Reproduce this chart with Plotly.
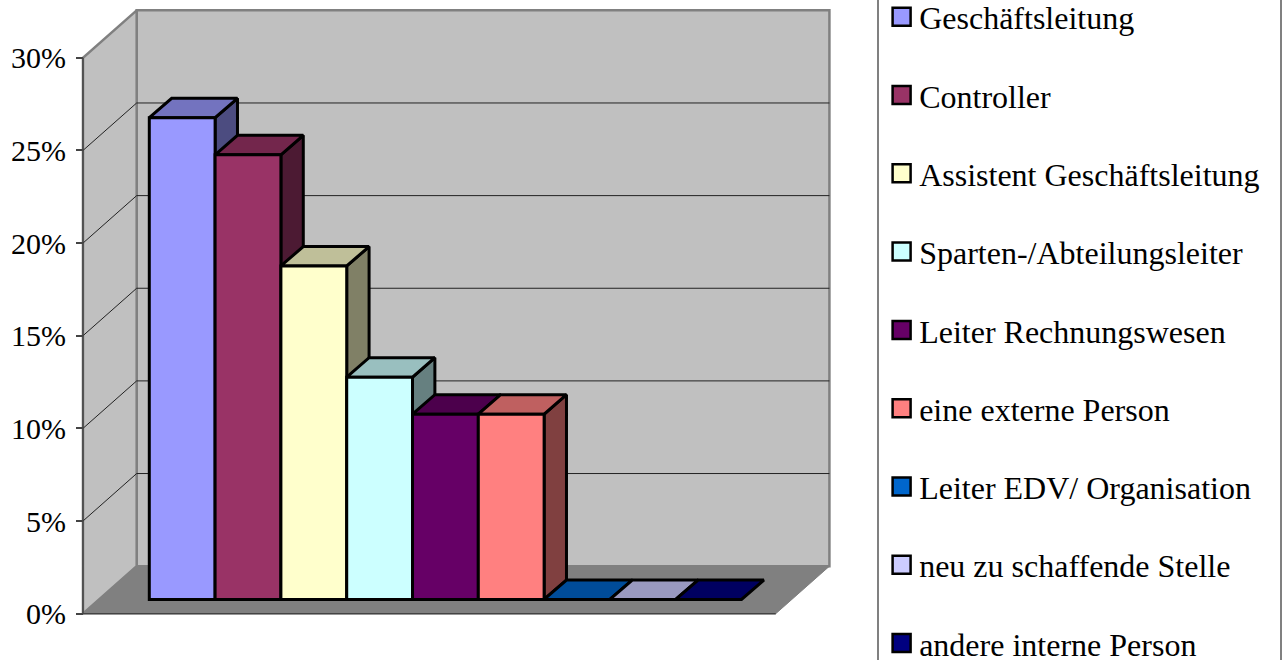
import plotly.graph_objects as go

categories = ["Geschäftsleitung", "Controller", "Assistent Geschäftsleitung",
              "Sparten-/Abteilungsleiter", "Leiter Rechnungswesen", "eine externe Person",
              "Leiter EDV/ Organisation", "neu zu schaffende Stelle", "andere interne Person"]
values = [26, 24, 18, 12, 10, 10, 0, 0, 0]
colors = ["#9999FF", "#993366", "#FFFFCC", "#CCFFFF", "#660066", "#FF8080", "#0066CC", "#CCCCFF", "#000080"]
tick_values = [0, 5, 10, 15, 20, 25, 30]
tick_labels = ["0%", "5%", "10%", "15%", "20%", "25%", "30%"]

W, H = 1282, 660
FONT = "Liberation Serif"
# axis windows (category units / percent units)
X_RANGE = [-2.769, 16.714]
Y_RANGE = [-2.5, 33.12]
# box of the pseudo-3D chart
BOX_L, BOX_R, BOX_DX, BOX_DY = -1.508, 9.02, 0.816, 2.563
BAR_BASE, BAR_DX, BAR_DY = 0.766, 0.34, 1.05
GREY_WALL, GREY_FLOOR, GREY_EDGE = "#C0C0C0", "#808080", "#808080"
# key column, placed on the same axes as the chart
KEY_X, KEY_LABEL_X = 10.933, 11.2
KEY_TOP, KEY_STEP, KEY_LABEL_DROP = 32.22, 4.226, 0.25


def shade(hex_color, f):
    r, g, b = (int(hex_color[i:i + 2], 16) for i in (1, 3, 5))
    return f"rgb({round(r * f)},{round(g * f)},{round(b * f)})"


def poly(xs, ys, fill, line_color, line_width):
    return go.Scatter(x=list(xs) + [xs[0]], y=list(ys) + [ys[0]], mode="lines", fill="toself",
                      fillcolor=fill, line=dict(color=line_color, width=line_width),
                      showlegend=False, hoverinfo="skip")


def seg(xs, ys, color, width):
    return go.Scatter(x=xs, y=ys, mode="lines", line=dict(color=color, width=width),
                      showlegend=False, hoverinfo="skip")


fig = go.Figure()
top = tick_values[-1]
# walls and floor
fig.add_trace(poly([BOX_L + BOX_DX, BOX_R + BOX_DX, BOX_R + BOX_DX, BOX_L + BOX_DX],
                   [BOX_DY, BOX_DY, top + BOX_DY, top + BOX_DY], GREY_WALL, GREY_EDGE, 2.5))
fig.add_trace(poly([BOX_L, BOX_L + BOX_DX, BOX_L + BOX_DX, BOX_L],
                   [0, BOX_DY, top + BOX_DY, top], GREY_WALL, GREY_EDGE, 2.5))
fig.add_trace(poly([BOX_L, BOX_R, BOX_R + BOX_DX, BOX_L + BOX_DX],
                   [0, 0, BOX_DY, BOX_DY], GREY_FLOOR, GREY_FLOOR, 1))
# grid lines
for t in tick_values[1:-1]:
    fig.add_trace(seg([BOX_L, BOX_L + BOX_DX, BOX_R + BOX_DX],
                      [t, t + BOX_DY, t + BOX_DY], "#222222", 1))
fig.add_trace(seg([BOX_L, BOX_R], [0, 0], "#444444", 1.5))
fig.add_trace(seg([BOX_L, BOX_L], [0, top], "#444444", 1.5))

# side and top faces, left to right
for i, (v, c) in enumerate(zip(values, colors)):
    l, r, b, t = i - 0.5, i + 0.5, BAR_BASE, BAR_BASE + v
    if v > 0:
        fig.add_trace(poly([r, r + BAR_DX, r + BAR_DX, r], [b, b + BAR_DY, t + BAR_DY, t],
                           shade(c, 0.5), "black", 3))
    fig.add_trace(poly([l, r, r + BAR_DX, l + BAR_DX], [t, t, t + BAR_DY, t + BAR_DY],
                       shade(c, 0.75), "black", 3))

# key: one swatch and label per category
for i, (name, c) in enumerate(zip(categories, colors)):
    row = KEY_TOP - i * KEY_STEP
    fig.add_trace(go.Scatter(x=[KEY_X], y=[row], mode="markers",
                             marker=dict(symbol="square", size=18, color=c,
                                         line=dict(color="black", width=2.5)),
                             showlegend=False, hoverinfo="skip", cliponaxis=False))
    fig.add_trace(go.Scatter(x=[KEY_LABEL_X], y=[row - KEY_LABEL_DROP], mode="text",
                             text=[name], textposition="middle right",
                             textfont=dict(family=FONT, size=32, color="black"),
                             showlegend=False, hoverinfo="skip", cliponaxis=False))

# front faces on an overlay subplot so they cover neighbouring side faces
for i, (name, v, c) in enumerate(zip(categories, values, colors)):
    fig.add_trace(go.Bar(x=[i], y=[v], base=BAR_BASE, width=1, name=name, xaxis="x2", yaxis="y2",
                         marker=dict(color=c, line=dict(color="black", width=3)),
                         showlegend=False, hovertemplate=name + ": %{y}%<extra></extra>"))

fig.update_layout(
    width=W, height=H, margin=dict(l=0, r=0, t=0, b=0, autoexpand=False),
    paper_bgcolor="white", plot_bgcolor="white", barmode="overlay", showlegend=False,
    font=dict(family=FONT, color="black"),
    xaxis=dict(range=X_RANGE, visible=False, domain=[0, 1]),
    yaxis=dict(range=Y_RANGE, domain=[0, 1], anchor="free", position=83 / W, side="left",
               tickmode="array", tickvals=tick_values, ticktext=tick_labels,
               ticks="outside", ticklen=7, tickwidth=1.5, tickcolor="#444444",
               ticklabelstandoff=4, tickfont=dict(family=FONT, size=30),
               showgrid=False, zeroline=False, showline=False),
    xaxis2=dict(range=X_RANGE, visible=False, overlaying="x", anchor="y2"),
    yaxis2=dict(range=Y_RANGE, visible=False, overlaying="y", anchor="x2"),
    shapes=[dict(type="line", xref="paper", yref="paper", x0=878 / W, x1=878 / W, y0=0, y1=1,
                 line=dict(color="#808080", width=2)),
            dict(type="line", xref="paper", yref="paper", x0=1281 / W, x1=1281 / W, y0=0, y1=1,
                 line=dict(color="#808080", width=2))],
)
fig.write_html("out.html", config={"displayModeBar": False},
               post_script="document.body.style.margin='0';")
